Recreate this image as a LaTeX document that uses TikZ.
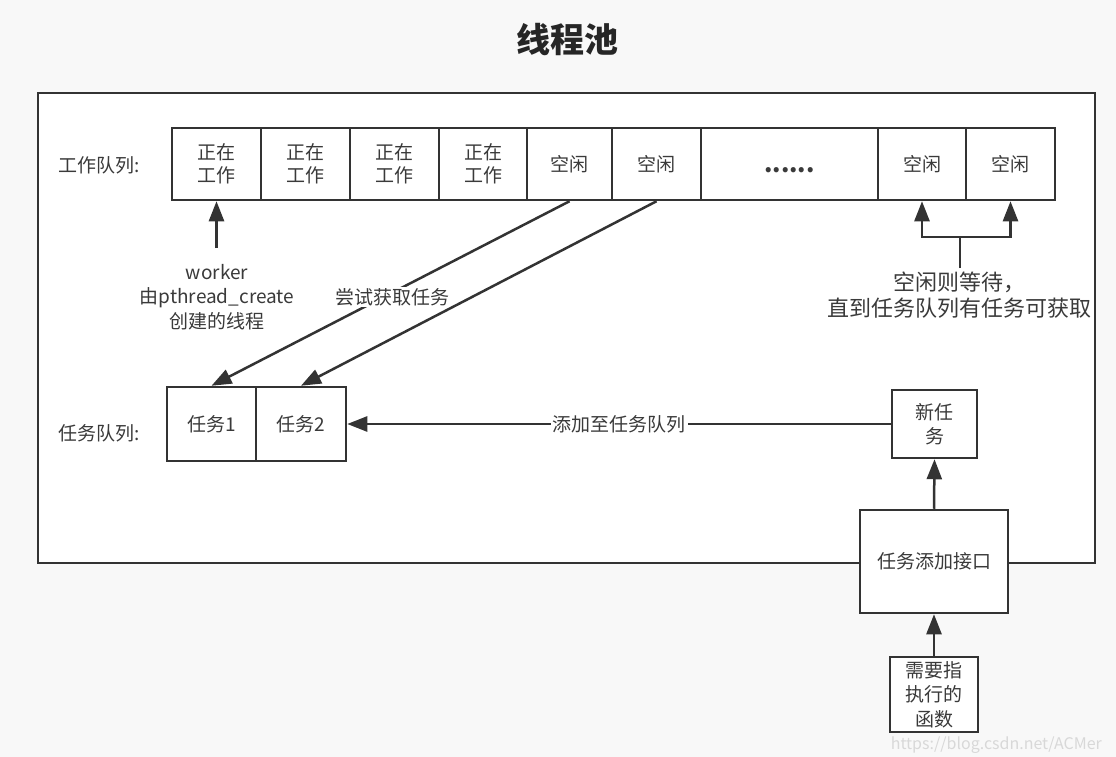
\documentclass[tikz,border=0pt]{standalone}
\usepackage{fontspec}
\setmainfont{Noto Sans CJK SC}
\usetikzlibrary{arrows.meta}
\definecolor{lncol}{HTML}{333333}
\definecolor{txcol}{HTML}{3A3A3A}
\definecolor{bgcol}{HTML}{F8F8F8}
\definecolor{wmcol}{HTML}{D8D8D8}
\begin{document}
\begin{tikzpicture}[x=1pt,y=-1pt,
  cell/.style={draw=lncol, line width=2.5pt, fill=white, inner sep=0pt, align=center, text=txcol,
    font=\fontsize{19}{23.5}\selectfont, minimum height=72pt},
  lbl/.style={text=txcol, align=center, inner sep=1pt, font=\fontsize{19}{24.5}\selectfont},
  conn/.style={draw=lncol, line width=2.5pt},
  arr/.style={conn, -{Triangle[length=20pt,width=15pt]}}]
\fill[bgcol] (0,0) rectangle (1116,757);
\useasboundingbox (0,0) rectangle (1116,757);

\node[font=\fontsize{34}{40}\selectfont\bfseries, text=black!85] (title) at (567,40) {线程池};

\node[draw=lncol, line width=2.5pt, fill=white, minimum width=1057pt, minimum height=470pt, inner sep=0pt] (pool) at (566.5,328) {};

% worker queue
\node[lbl, anchor=west] (wql) at (57,165) {工作队列:};
\node[cell, minimum width=89pt] (w1) at (216.5,164) {正在\\工作};
\node[cell, minimum width=89pt] (w2) at (305.5,164) {正在\\工作};
\node[cell, minimum width=89pt] (w3) at (394.5,164) {正在\\工作};
\node[cell, minimum width=88pt] (w4) at (483,164) {正在\\工作};
\node[cell, minimum width=85pt] (w5) at (569.5,164) {空闲};
\node[cell, minimum width=89pt] (w6) at (656.5,164) {空闲};
\node[cell, minimum width=177pt, font=\fontsize{24}{28}\selectfont\bfseries] (w7) at (789.5,164) {\vphantom{工}......};
\node[cell, minimum width=88pt] (w8) at (922,164) {空闲};
\node[cell, minimum width=89pt] (w9) at (1010.5,164) {空闲};

% worker label
\node[lbl] (wlab) at (217,297) {worker\\由pthread\_create\\创建的线程};
\coordinate (wk) at (216.5,248);
\draw[arr] (wk) -- (w1.south);

% idle label
\node[lbl, font=\fontsize{22}{26}\selectfont] (idle) at (959,295) {空闲则等待，\\直到任务队列有任务可获取};
\coordinate (jn) at (960,237);
\draw[conn] (960,268) -- (jn);
\draw[arr] (jn) -| (w8.south);
\draw[arr] (jn) -| (w9.south);

% task queue
\node[lbl, anchor=west] (tql) at (57,433) {任务队列:};
\node[cell, minimum width=89pt, minimum height=74pt] (t1) at (211.5,424) {任务1};
\node[cell, minimum width=90pt, minimum height=74pt] (t2) at (301,424) {任务2};

% diagonal arrows
\draw[arr] (w5.south) -- (t1.north);
\draw[arr] (w6.south) -- (t2.north);
\node[lbl, fill=white] (try) at (392,297) {尝试获取任务};

% new task and interface
\node[cell, minimum width=85pt, minimum height=68pt] (nt) at (934.5,424) {新任\\务};
\node[cell, minimum width=148pt, minimum height=103pt] (iface) at (934,561.5) {任务添加接口};
\node[cell, minimum width=88pt, minimum height=75pt, font=\fontsize{19}{24.5}\selectfont] (fn) at (934,694.5) {需要指\\执行的\\函数};

\draw[arr] (nt.west) -- node[lbl, fill=white, inner sep=2pt] (addl) {添加至任务队列} (t2.east);
\draw[arr] (iface.north) -- (nt.south);
\draw[arr] (fn.north) -- (iface.south);

\node[anchor=east, text=wmcol, font=\fontsize{16}{18}\selectfont, inner sep=0pt] (wm) at (1102,745) {https://blog.csdn.net/ACMer};
\end{tikzpicture}
\end{document}
